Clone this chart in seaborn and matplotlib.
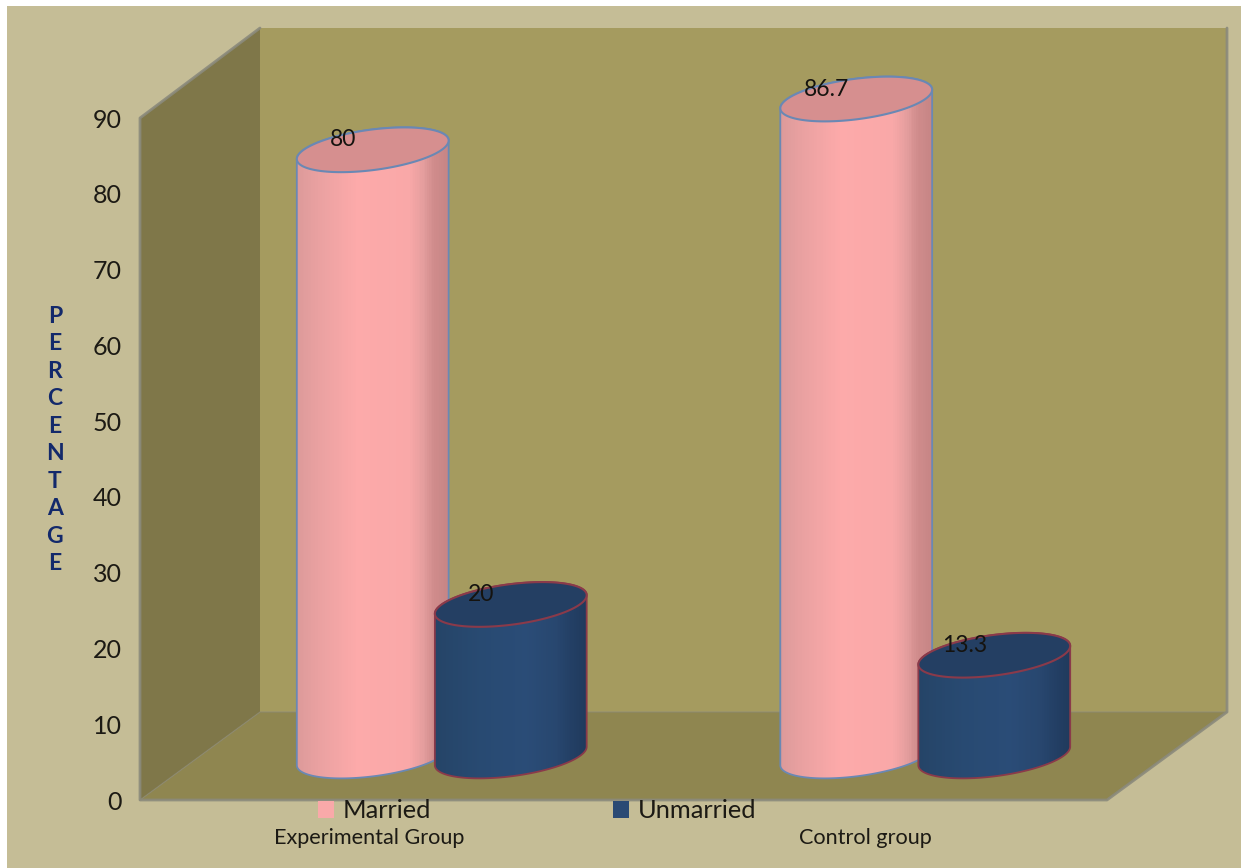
import numpy as np
import pandas as pd
import matplotlib
matplotlib.use("Agg")
import matplotlib.pyplot as plt
import seaborn as sns
from matplotlib.colors import LinearSegmentedColormap
from matplotlib.lines import Line2D
from matplotlib.patches import Patch, Polygon, Rectangle
from matplotlib.path import Path
from matplotlib.transforms import Affine2D, IdentityTransform

# Study data
groups = ["Experimental Group", "Control group"]
married = [80, 86.7]
unmarried = [20, 13.3]
y_ticks = [0, 10, 20, 30, 40, 50, 60, 70, 80, 90]
y_label = "PERCENTAGE"

# Colours
PAGE = "#c5bd96"
BACK_WALL = "#a59b5f"
SIDE_WALL = "#7f7749"
FLOOR = "#8f8650"
WALL_EDGE = "#8b8a7c"
NAVY_TEXT = "#13296b"
TEXT = "#1c1a14"
STATUS_COLORS = {"Married": "#f9a9a9", "Unmarried": "#2a4a74"}
BODY_STOPS = {
    "Married": [(0, "#dc9a9a"), (0.15, "#eaa1a1"), (0.4, "#fdaaaa"), (0.74, "#f9a8a8"),
                (0.84, "#e39d9d"), (0.9, "#d08c8c"), (1, "#c68585")],
    "Unmarried": [(0, "#254467"), (0.3, "#284a72"), (0.6, "#2a4c77"), (0.8, "#28476f"),
                  (0.9, "#233f65"), (1, "#203a5c")],
}
TOP_COLORS = {"Married": "#d68f8f", "Unmarried": "#243f63"}
OUTLINES = {"Married": "#6a88b4", "Unmarried": "#8a3a4a"}

W, H = 1241, 868
sns.set_theme(style="white")
plt.rcParams["font.family"] = ["Lato", "DejaVu Sans"]

table = pd.DataFrame({
    "group": groups * 2,
    "status": ["Married"] * len(groups) + ["Unmarried"] * len(groups),
    "value": married + unmarried,
})

fig = plt.figure(figsize=(W / 100, H / 100), dpi=100, facecolor="white")


def px(points):
    """Top-left based pixel positions to display coordinates."""
    return [(x, H - y) for x, y in points]


identity = IdentityTransform()
fig.add_artist(Rectangle((7, 0), W - 7, H - 6, transform=identity, fc=PAGE, ec="none", zorder=-5))
for corners, face in [
    ([(260, 28), (1227, 28), (1227, 712), (260, 712)], BACK_WALL),
    ([(140, 800), (260, 712), (1227, 712), (1107, 800)], FLOOR),
    ([(140, 118), (260, 28), (260, 712), (140, 800)], SIDE_WALL),
]:
    fig.add_artist(Polygon(px(corners), closed=True, transform=identity, fc=face,
                           ec="none", zorder=-4))

# Frame line around the open box
frame = np.array(px([(260, 28), (140, 118), (140, 800), (1107, 800), (1227, 712), (1227, 28)]))
fig.add_artist(Line2D(frame[:, 0], frame[:, 1], transform=identity, color=WALL_EDGE, lw=2,
                      alpha=0.9, zorder=-3))
seam = np.array(px([(140, 800), (260, 712), (1227, 712)]))
fig.add_artist(Line2D(seam[:, 0], seam[:, 1], transform=identity, color=WALL_EDGE, lw=1,
                      alpha=0.55, zorder=-3))

ax = fig.add_axes([140 / W, (H - 800) / H, 967 / W, 682 / H])
ax.patch.set_alpha(0)
sns.barplot(data=table, x="group", y="value", hue="status", order=groups,
            palette=STATUS_COLORS, width=0.571, gap=-0.1, legend=False, ax=ax)
ax.set_xlim(-0.5, 1.5)
ax.set_ylim(0, 90)
ax.set_autoscale_on(False)
sns.despine(ax=ax, left=True, bottom=True)
ax.set_yticks(y_ticks)
ax.tick_params(axis="y", length=0, pad=13, labelsize=18, labelcolor=TEXT)
ax.tick_params(axis="x", length=0, pad=20, labelsize=15.6, labelcolor=TEXT)
ax.set_xlabel("")
ax.set_ylabel("\n".join(y_label), rotation=0, fontsize=16.5, fontweight="bold",
              color=NAVY_TEXT, linespacing=1.38, labelpad=0, va="center", ha="center")
ax.yaxis.set_label_coords(-0.088, 0.528)
first_label = ax.get_xticklabels()[0]
first_label.set_transform(first_label.get_transform() + Affine2D().translate(-13, 0))

# The chart floor sits behind the axis plane, so columns are pushed back and up
depth = ax.transData + Affine2D().translate(60, 44)
TILT = np.radians(7.5)
MINOR = 20.2


def ring(cx, cy, a, t):
    x = a * np.cos(t) * np.cos(TILT) - MINOR * np.sin(t) * np.sin(TILT)
    y = a * np.cos(t) * np.sin(TILT) + MINOR * np.sin(t) * np.cos(TILT)
    return np.column_stack([cx + x, cy + y])


def draw_column(bar, value, status, z):
    x_mid = bar.get_x() + bar.get_width() / 2
    left, _ = depth.transform((bar.get_x(), 0))
    right, _ = depth.transform((bar.get_x() + bar.get_width(), 0))
    cx, base = depth.transform((x_mid, 0))
    _, top = depth.transform((x_mid, value))
    half = (right - left) / 2
    a = np.sqrt((half ** 2 - (MINOR * np.sin(TILT)) ** 2)) / np.cos(TILT)

    t_right = np.arctan2(-MINOR * np.sin(TILT), a * np.cos(TILT))
    lower = ring(cx, base, a, np.linspace(t_right - np.pi, t_right, 120))
    upper = ring(cx, top, a, np.linspace(t_right, t_right + np.pi, 120))
    outline = np.vstack([lower, upper, lower[:1]])
    clip = Path(outline, closed=True)

    shade = LinearSegmentedColormap.from_list(status, BODY_STOPS[status])
    xs = np.linspace(cx - half - 1, cx + half + 1, 90)
    mesh = ax.pcolormesh(xs, [base - 40, top + 40], np.linspace(0, 1, 89)[None, :], cmap=shade,
                         transform=identity, zorder=z, antialiased=False, shading="flat")
    mesh.set_clip_box(None)
    mesh.set_clip_path(clip, identity)

    ax.add_patch(Polygon(outline, closed=True, fc="none", ec=OUTLINES[status], lw=1.3,
                         transform=identity, zorder=z + 0.1, clip_on=False))
    ax.add_patch(Polygon(ring(cx, top, a, np.linspace(0, 2 * np.pi, 240)), closed=True,
                         fc=TOP_COLORS[status], ec=OUTLINES[status], lw=1.5,
                         transform=identity, zorder=z + 0.2, clip_on=False))
    ax.annotate(f"{value:g}", xy=(x_mid, value), xycoords=depth, xytext=(-30, 10),
                textcoords="offset pixels", ha="center", va="center", fontsize=16.5,
                color="#15130f", zorder=30, annotation_clip=False)


statuses = ["Married", "Unmarried"]
series = [married, unmarried]
z_order = 5
for container, status, values in zip(ax.containers, statuses, series):
    for bar, value in zip(container, values):
        bar.set_visible(False)
        draw_column(bar, value, status, z_order)
        z_order += 1

handles = [Patch(fc=STATUS_COLORS[s], ec="none") for s in statuses]
ax.legend(handles, statuses, ncols=2, loc="center left", frameon=False,
          bbox_to_anchor=(318 / W, (H - 811) / H), bbox_transform=fig.transFigure,
          borderaxespad=0, borderpad=0, fontsize=18.3, handlelength=0.61, handleheight=0.61,
          handletextpad=0.35, columnspacing=7.18, labelcolor=TEXT)

fig.savefig("out.png", dpi=100, facecolor=fig.get_facecolor())
